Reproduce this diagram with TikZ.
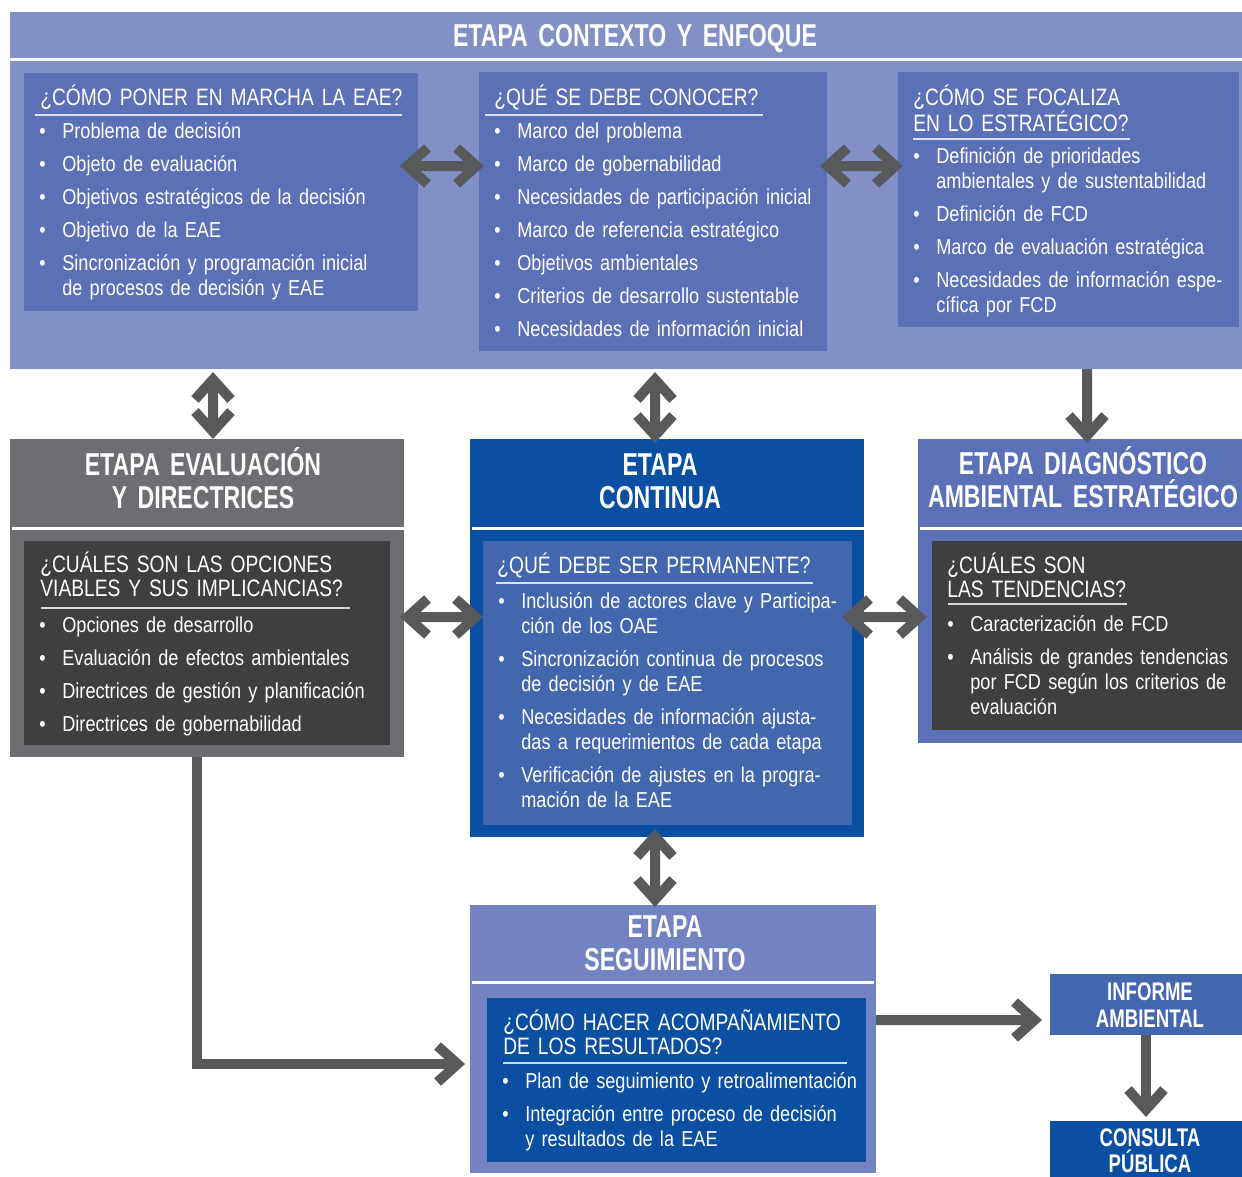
\documentclass[tikz,border=0pt]{standalone}
\usepackage{fontspec}
\setmainfont[FakeStretch=0.84]{Liberation Sans}
\newfontfamily\qfont[FakeStretch=0.81]{Liberation Sans}
\newfontfamily\hfont[FakeStretch=0.73, WordSpace=0.7]{Liberation Sans}
\usetikzlibrary{arrows.meta}
\usepackage{xcolor}

\definecolor{ctxbg}{HTML}{8290C6}
\definecolor{qblue}{HTML}{5A71B8}
\definecolor{evalgray}{HTML}{6D6E71}
\definecolor{darkbox}{HTML}{3F3F3F}
\definecolor{contblue}{HTML}{0B4FA2}
\definecolor{contin}{HTML}{4267AE}
\definecolor{segbg}{HTML}{7382C0}
\definecolor{arrgray}{HTML}{58595B}

% one bullet paragraph, with manual breaks inside
\newcommand{\bul}[1]{\noindent\hangindent=4.6mm\hangafter=1%
  \makebox[4.6mm][l]{\textbullet}#1\setlength{\parskip}{1.6mm}\par}

\begin{document}
\begin{tikzpicture}[x=0.2mm, y=-0.2mm,
    blk/.style={anchor=north west, inner sep=0pt, outer sep=0pt},
    sz/.style 2 args={minimum width=#1*0.2mm, minimum height=#2*0.2mm},
    head/.style={text=white, font=\hfont\bfseries\fontsize{18pt}{6.6mm}\selectfont, align=center, text width=80mm, anchor=base, inner sep=0pt},
    quest/.style={text=white, font=\qfont\fontsize{13.5pt}{4.8mm}\selectfont, align=left, text width=80mm, anchor=base west, inner sep=0pt},
    items/.style={text=white, font=\fontsize{12.3pt}{5mm}\selectfont, align=left, text width=90mm, anchor=base west, inner sep=0pt},
    uline/.style={draw=white, draw opacity=0.8, line width=0.35mm},
    sepline/.style={draw=white, line width=0.6mm},
    arr/.style={draw=arrgray, line width=2mm, line join=miter, -{Straight Barb[length=4mm,width=7.2mm]}},
    dbl/.style={arr, {Straight Barb[length=4mm,width=7.2mm]}-{Straight Barb[length=4mm,width=7.2mm]}}]
    \useasboundingbox (0,0) rectangle (1242,1176);

    % Etapa contexto y enfoque
    \node[blk, sz={1232}{357}, fill=ctxbg] (ctx) at (10,12) {};
    \draw[sepline] (10,59) -- (1242,59);
    \node[head] (ctxh) at (635,46) {ETAPA CONTEXTO Y ENFOQUE};

    \node[blk, sz={394}{238}, fill=qblue] (b1) at (24,73) {};
    \node[quest] (q1) at (40,105) {¿CÓMO PONER EN MARCHA LA EAE?};
    \draw[uline] (35,115) -- (402,115);
    \node[items] (l1) at (39,138) {%
      \bul{Problema de decisión}
      \bul{Objeto de evaluación}
      \bul{Objetivos estratégicos de la decisión}
      \bul{Objetivo de la EAE}
      \bul{Sincronización y programación inicial\newline de procesos de decisión y EAE}};

    \node[blk, sz={348}{279}, fill=qblue] (b2) at (479,72) {};
    \node[quest] (q2) at (494,105) {¿QUÉ SE DEBE CONOCER?};
    \draw[uline] (485,115) -- (763,115);
    \node[items] (l2) at (494,138) {%
      \bul{Marco del problema}
      \bul{Marco de gobernabilidad}
      \bul{Necesidades de participación inicial}
      \bul{Marco de referencia estratégico}
      \bul{Objetivos ambientales}
      \bul{Criterios de desarrollo sustentable}
      \bul{Necesidades de información inicial}};

    \node[blk, sz={341}{255}, fill=qblue] (b3) at (898,72) {};
    \node[quest] (q3) at (913,105) {¿CÓMO SE FOCALIZA\\EN LO ESTRATÉGICO?};
    \draw[uline] (913,139) -- (1130,139);
    \node[items] (l3) at (913,163) {%
      \bul{Definición de prioridades\newline ambientales y de sustentabilidad}
      \bul{Definición de FCD}
      \bul{Marco de evaluación estratégica}
      \bul{Necesidades de información espe-\newline cífica por FCD}};

    % Etapa evaluacion y directrices
    \node[blk, sz={394}{318}, fill=evalgray] (eval) at (10,439) {};
    \node[head] (evalh) at (203,475) {ETAPA EVALUACIÓN\\Y DIRECTRICES};
    \draw[sepline] (12,528) -- (404,528);
    \node[blk, sz={366}{204}, fill=darkbox] (evin) at (24,541) {};
    \node[quest] (q4) at (40,572) {¿CUÁLES SON LAS OPCIONES\\VIABLES Y SUS IMPLICANCIAS?};
    \draw[uline] (41,608) -- (350,608);
    \node[items] (l4) at (39,632) {%
      \bul{Opciones de desarrollo}
      \bul{Evaluación de efectos ambientales}
      \bul{Directrices de gestión y planificación}
      \bul{Directrices de gobernabilidad}};

    % Etapa continua
    \node[blk, sz={394}{398}, fill=contblue] (cont) at (470,439) {};
    \node[head] (conth) at (660,475) {ETAPA\\CONTINUA};
    \draw[sepline] (472,528) -- (864,528);
    \node[blk, sz={369}{284}, fill=contin] (cnin) at (483,541) {};
    \node[quest] (q5) at (497,573) {¿QUÉ DEBE SER PERMANENTE?};
    \draw[uline] (496,583) -- (813,583);
    \node[items] (l5) at (498,608) {%
      \bul{Inclusión de actores clave y Participa-\newline ción de los OAE}
      \bul{Sincronización continua de procesos\newline de decisión y de EAE}
      \bul{Necesidades de información ajusta-\newline das a requerimientos de cada etapa}
      \bul{Verificación de ajustes en la progra-\newline mación de la EAE}};

    % Etapa diagnostico ambiental estrategico
    \node[blk, sz={324}{304}, fill=qblue] (diag) at (918,439) {};
    \node[head] (diagh) at (1083,474) {ETAPA DIAGNÓSTICO\\AMBIENTAL ESTRATÉGICO};
    \draw[sepline] (920,528) -- (1242,528);
    \node[blk, sz={310}{189}, fill=darkbox] (dgin) at (932,541) {};
    \node[quest] (q6) at (947,573) {¿CUÁLES SON\\LAS TENDENCIAS?};
    \draw[uline] (948,604) -- (1127,604);
    \node[items] (l6) at (947,631) {%
      \bul{Caracterización de FCD}
      \bul{Análisis de grandes tendencias\newline por FCD según los criterios de\newline evaluación}};

    % Etapa seguimiento
    \node[blk, sz={406}{268}, fill=segbg] (seg) at (470,905) {};
    \node[head] (segh) at (665,937) {ETAPA\\SEGUIMIENTO};
    \draw[sepline] (472,982) -- (874,982);
    \node[blk, sz={379}{164}, fill=contblue] (sgin) at (487,998) {};
    \node[quest] (q7) at (503,1030) {¿CÓMO HACER ACOMPAÑAMIENTO\\DE LOS RESULTADOS?};
    \draw[uline] (503,1063) -- (847,1063);
    \node[items] (l7) at (502,1088) {%
      \bul{Plan de seguimiento y retroalimentación}
      \bul{Integración entre proceso de decisión\newline y resultados de la EAE}};

    % Informe y consulta
    \node[blk, sz={192}{61}, fill=contin] (inf) at (1050,974) {};
    \node[head, font=\hfont\bfseries\fontsize{14.5pt}{5.4mm}\selectfont] (infh) at (1150,1000) {INFORME\\AMBIENTAL};
    \node[blk, sz={192}{62}, fill=contblue] (cons) at (1050,1121) {};
    \node[head, font=\hfont\bfseries\fontsize{14.5pt}{5.2mm}\selectfont] (consh) at (1150,1146) {CONSULTA\\PÚBLICA};

    % flechas
    \draw[dbl, shorten <=-3.6mm, shorten >=-1mm] ([yshift=5.2mm]b1.east) -- ([yshift=9.1mm]b2.west);
    \draw[dbl, shorten <=-1.4mm, shorten >=-1mm] ([yshift=9.1mm]b2.east) -- ([yshift=6.7mm]b3.west);
    \draw[dbl, shorten <=0.6mm] ([xshift=-82.6mm]ctx.south) -- ([xshift=1.2mm]eval.north);
    \draw[dbl, shorten <=0.6mm, shorten >=-0.8mm] ([xshift=5.8mm]ctx.south) -- ([xshift=-2.4mm]cont.north);
    \draw[arr, shorten >=-0.8mm] ([xshift=92.2mm]ctx.south) -- ([xshift=1.4mm]diag.north);
    \draw[dbl, shorten <=-0.8mm, shorten >=-2.6mm] ([yshift=-3.8mm]eval.east) -- ([yshift=4.2mm]cont.west);
    \draw[dbl, shorten <=-4.4mm, shorten >=-1.8mm] ([yshift=4.2mm]cont.east) -- ([yshift=-5.2mm]diag.west);
    \draw[dbl, shorten <=-1.6mm, shorten >=-0.4mm] ([xshift=-2.4mm]cont.south) -- ([xshift=-3.6mm]seg.north);
    \draw[arr, shorten >=1mm] ([xshift=-2.1mm]eval.south) |- ([yshift=-5mm]seg.west);
    \draw[arr, shorten >=1.6mm] ([yshift=3.8mm]seg.east) -- ([yshift=-3.1mm]inf.west);
    \draw[arr, shorten >=0.8mm] (inf.south) -- (cons.north);
\end{tikzpicture}
\end{document}
